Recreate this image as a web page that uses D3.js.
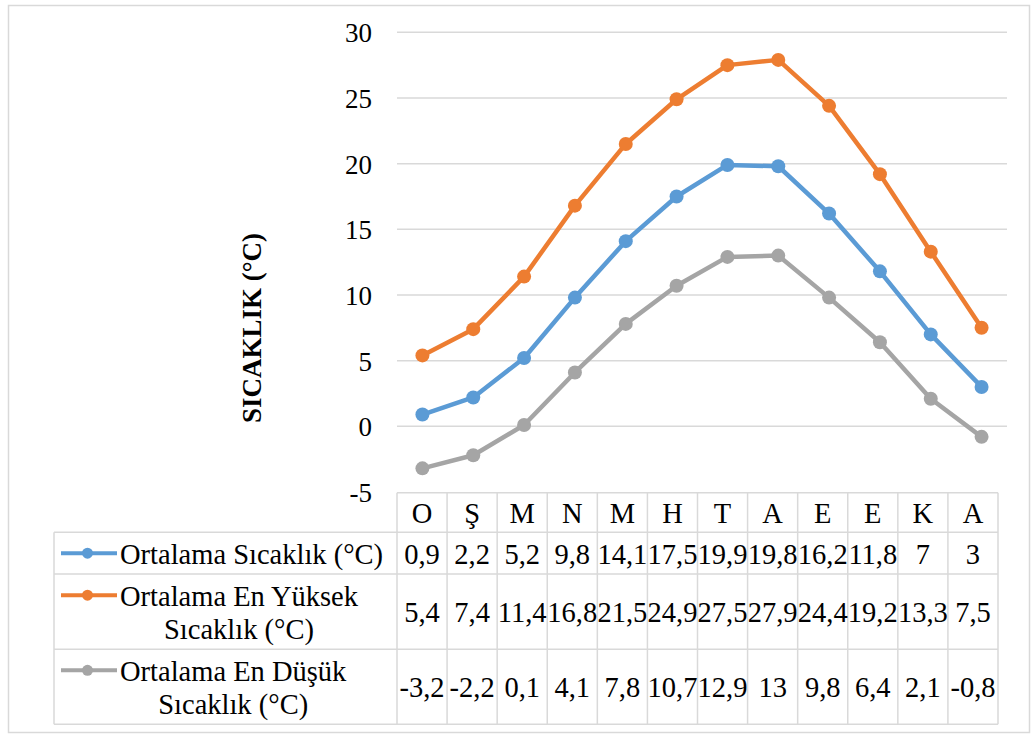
<!DOCTYPE html>
<html><head><meta charset="utf-8">
<script src="https://cdn.jsdelivr.net/npm/d3@7"></script>
<style>body{margin:0;background:#fff}svg{display:block}text{font-family:"Liberation Serif","Times New Roman",serif;fill:#000}</style>
</head><body>
<script>
const months = ["O","Ş","M","N","M","H","T","A","E","E","K","A"];
const ortalama = [0.9,2.2,5.2,9.8,14.1,17.5,19.9,19.8,16.2,11.8,7,3];
const enYuksek = [5.4,7.4,11.4,16.8,21.5,24.9,27.5,27.9,24.4,19.2,13.3,7.5];
const enDusuk = [-3.2,-2.2,0.1,4.1,7.8,10.7,12.9,13,9.8,6.4,2.1,-0.8];
const yTicks = [-5,0,5,10,15,20,25,30];
const series = [
  {name:["Ortalama Sıcaklık (°C)"], values:ortalama, color:"#5B9BD5"},
  {name:["Ortalama En Yüksek","Sıcaklık (°C)"], values:enYuksek, color:"#ED7D31"},
  {name:["Ortalama En Düşük","Sıcaklık (°C)"], values:enDusuk, color:"#A5A5A5"}
];
const fmt = v => String(v).replace(".", ",");

const W=1032,H=736;
const svg=d3.select("body").append("svg").attr("width",W).attr("height",H);
svg.append("rect").attr("x",8.5).attr("y",5.5).attr("width",1021).attr("height",727)
  .attr("fill","#fff").attr("stroke","#d9d9d9").attr("stroke-width",1.5);

const y=d3.scaleLinear().domain([-5,30]).range([492,32.3]);
const idx=d3.range(months.length);
const xPts=d3.scaleBand().domain(idx).range([397,1007]);
const xTab=d3.scaleBand().domain(idx).range([397,998]);

// gridlines
svg.append("g").selectAll("line").data(yTicks.filter(t=>t>-5)).join("line")
  .attr("x1",397).attr("x2",1007).attr("y1",d=>y(d)).attr("y2",d=>y(d))
  .attr("stroke","#d9d9d9").attr("stroke-width",1.5);
// y tick labels via axis
const ya=svg.append("g").attr("transform","translate(380,0)")
  .call(d3.axisLeft(y).tickValues(yTicks).tickSize(0).tickPadding(8).tickFormat(d=>String(d)));
ya.select(".domain").remove();
ya.selectAll("text").attr("font-size",27).attr("font-family","Liberation Serif").attr("fill","#000").attr("dy","0.35em");

// axis title
svg.append("text").attr("transform","translate(252,328) rotate(-90)")
  .attr("text-anchor","middle").attr("dominant-baseline","central")
  .attr("font-size",27).attr("font-weight","bold").text("SICAKLIK (°C)");

// lines and markers
const line=d3.line().x((d,i)=>xPts(i)+xPts.bandwidth()/2).y(d=>y(d));
series.forEach(s=>{
  svg.append("path").datum(s.values).attr("d",line).attr("fill","none")
    .attr("stroke",s.color).attr("stroke-width",4.5).attr("stroke-linejoin","round");
  svg.append("g").selectAll("circle").data(s.values).join("circle")
    .attr("cx",(d,i)=>xPts(i)+xPts.bandwidth()/2).attr("cy",d=>y(d)).attr("r",7)
    .attr("fill",s.color);
});

// data table
const rows=[{top:532.3,bot:574},{top:574,bot:649.3},{top:649.3,bot:724.3}];
const hTop=492.7,hBot=532.3, tL=54, tR=998;
const g=svg.append("g");
const bc="#d9d9d9", bw=1.5;
// header
g.append("line").attr("x1",397).attr("x2",tR).attr("y1",hTop).attr("y2",hTop).attr("stroke",bc).attr("stroke-width",bw);
rows.forEach(r=>{
  g.append("line").attr("x1",tL).attr("x2",tR).attr("y1",r.top).attr("y2",r.top).attr("stroke",bc).attr("stroke-width",bw);
});
g.append("line").attr("x1",tL).attr("x2",tR).attr("y1",724.3).attr("y2",724.3).attr("stroke",bc).attr("stroke-width",bw);
g.append("line").attr("x1",tL).attr("x2",tL).attr("y1",hBot).attr("y2",724.3).attr("stroke",bc).attr("stroke-width",bw);
g.selectAll(".vl").data(idx.concat([months.length])).join("line")
  .attr("x1",d=>d<months.length?xTab(d):tR).attr("x2",d=>d<months.length?xTab(d):tR)
  .attr("y1",hTop).attr("y2",724.3).attr("stroke",bc).attr("stroke-width",bw);

const fs=28.5;
g.selectAll(".hd").data(months).join("text")
  .attr("x",(d,i)=>xTab(i)+xTab.bandwidth()/2).attr("y",(hTop+hBot)/2+1)
  .attr("text-anchor","middle").attr("dominant-baseline","central").attr("font-size",fs).text(d=>d);

series.forEach((s,si)=>{
  const r=rows[si], mid=(r.top+r.bot)/2;
  g.selectAll(".v"+si).data(s.values).join("text")
    .attr("x",(d,i)=>xTab(i)+xTab.bandwidth()/2).attr("y",mid+1)
    .attr("text-anchor","middle").attr("dominant-baseline","central").attr("font-size",fs).text(d=>fmt(d));
  const n=s.name.length;
  const lineH=33;
  const y0=mid-(n-1)*lineH/2;
  // legend text block
  const texts=s.name.map((t,k)=>g.append("text").attr("y",y0+k*lineH+1).attr("dominant-baseline","central")
    .attr("font-size",fs).attr("text-anchor","middle").text(t));
  const widths=texts.map(t=>t.node().getComputedTextLength());
  const bwid=Math.max(...widths);
  texts.forEach(t=>t.attr("x",120+bwid/2));
  // legend symbol
  const ly=y0;
  g.append("line").attr("x1",61).attr("x2",117).attr("y1",ly).attr("y2",ly).attr("stroke",s.color).attr("stroke-width",4);
  g.append("circle").attr("cx",87.5).attr("cy",ly).attr("r",5.5).attr("fill",s.color);
});
</script>
</body></html>
